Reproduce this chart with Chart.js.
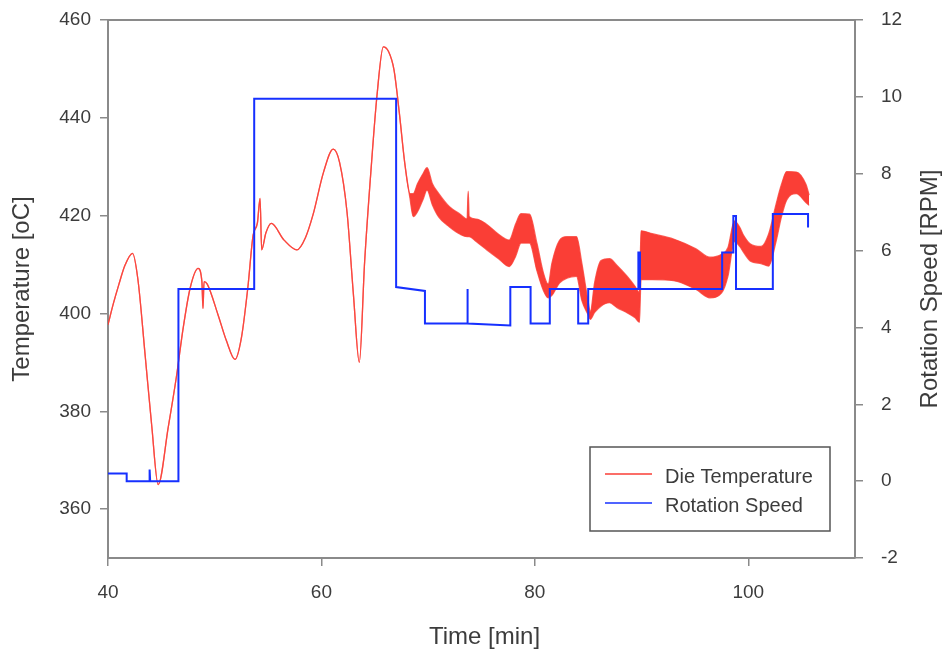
<!DOCTYPE html>
<html>
<head>
<meta charset="utf-8">
<title>Die Temperature / Rotation Speed</title>
<script src="https://cdn.jsdelivr.net/npm/chart.js@4.4.1/dist/chart.umd.min.js"></script>
<style>
  html, body { margin: 0; padding: 0; background: #fff; }
  #wrap { width: 946px; height: 653px; }
</style>
</head>
<body>
<div id="wrap"><canvas id="chart" width="946" height="653"></canvas></div>
<script>
// ================= DATA =================
// die temperature: time [min], upper and lower edge of the trace [oC]
// (both edges are equal where the trace is a thin line)
const tempTime = [
  40.0, 40.5, 41.0, 41.6, 42.3, 42.8, 43.5, 44.1, 44.7, 45.65,
  46.4, 47.05, 47.7, 48.45, 48.8, 48.9, 49.0, 49.3, 50.3, 51.1,
  51.9, 52.5, 53.1, 53.6, 54.0, 54.25, 54.4, 54.8, 55.3, 56.5,
  57.7, 58.5, 59.2, 60.2, 61.1, 61.7, 62.4, 63.0, 63.55, 64.05,
  64.7, 65.2, 65.8, 66.3, 66.8, 67.3, 67.8, 68.3, 68.6, 69.0,
  69.5, 69.9, 70.4, 71.0, 72.0, 73.0, 73.65, 73.75, 73.85, 74.5,
  75.5, 76.6, 77.6, 78.2, 78.7, 79.5, 80.2, 80.8, 81.25, 81.6,
  82.3, 83.0, 83.9, 84.4, 85.0, 85.2, 85.6, 86.2, 87.0, 87.7,
  88.6, 89.4, 89.8, 89.95, 91.0, 93.0, 95.1, 96.4, 97.5, 98.1,
  98.7, 99.2, 99.5, 100.2, 101.2, 101.9, 102.6, 103.1, 103.6, 104.5,
  105.4, 105.7
];
const tempHigh = [
  397.7, 402.0, 405.8, 409.9, 412.3, 407.0, 391.0, 377.0, 365.0, 376.8,
  386.9, 397.1, 405.2, 409.2, 406.5, 401.0, 406.5, 406.0, 399.8, 394.4,
  390.6, 395.0, 405.2, 416.0, 418.5, 423.5, 413.0, 416.5, 418.4, 415.0,
  413.0, 415.5, 420.1, 428.9, 433.6, 430.9, 420.7, 403.8, 390.0, 410.6,
  430.9, 444.4, 454.5, 453.5, 449.8, 441.0, 430.9, 424.5, 424.5, 426.5,
  428.5, 429.8, 426.5, 424.5, 421.8, 420.3, 419.3, 425.0, 419.8, 419.3,
  418.2, 416.2, 415.0, 418.3, 420.4, 420.3, 414.3, 408.3, 406.0, 410.3,
  414.9, 415.7, 415.7, 410.3, 402.3, 400.3, 406.3, 410.8, 411.2, 409.8,
  407.7, 405.5, 404.3, 416.9, 416.3, 415.2, 413.2, 411.5, 412.1, 413.5,
  418.9, 417.6, 416.2, 414.2, 413.7, 416.2, 422.3, 426.3, 429.0, 428.9,
  426.4, 424.2
];
const tempLow = [
  397.7, 402.0, 405.8, 409.9, 412.3, 407.0, 391.0, 377.0, 365.0, 376.8,
  386.9, 397.1, 405.2, 409.2, 406.5, 401.0, 406.5, 406.0, 399.8, 394.4,
  390.6, 395.0, 405.2, 416.0, 418.5, 423.5, 413.0, 416.5, 418.4, 415.0,
  413.0, 415.5, 420.1, 428.9, 433.6, 430.9, 420.7, 403.8, 390.0, 410.6,
  430.9, 444.4, 454.5, 453.5, 449.8, 441.0, 430.9, 423.5, 419.8, 420.8,
  423.2, 425.2, 422.2, 419.7, 417.7, 416.2, 415.7, 415.7, 415.7, 414.7,
  413.0, 411.2, 409.6, 411.7, 414.4, 414.4, 408.7, 404.7, 403.2, 403.7,
  406.2, 407.2, 407.6, 402.7, 399.7, 398.8, 400.2, 401.5, 402.2, 401.2,
  400.2, 399.1, 398.2, 406.9, 406.9, 406.7, 404.9, 403.2, 404.2, 407.7,
  414.7, 413.7, 412.7, 410.7, 410.2, 409.7, 414.7, 419.7, 423.2, 424.5,
  422.7, 422.1
];

// rotation speed: time [min] and speed [RPM], steps given as repeated times
const speedTime = [
  40.0, 41.75, 41.75, 43.9, 43.9, 43.95, 46.6, 46.6, 53.7, 53.7,
  67.0, 67.0, 69.7, 69.7, 73.65, 73.65, 73.72, 73.72, 77.7, 77.7,
  79.6, 79.6, 81.4, 81.4, 84.06, 84.06, 85.0, 85.0, 89.7, 89.7,
  89.85, 89.85, 97.55, 97.55, 98.6, 98.6, 98.85, 98.85, 102.3, 102.3,
  105.6, 105.6
];
const speedRpm = [
  0.2, 0.2, 0.0, 0.0, 0.3, 0.0, 0.0, 5.0, 5.0, 9.95,
  9.95, 5.05, 4.95, 4.1, 4.1, 5.0, 5.0, 4.1, 4.05, 5.05,
  5.05, 4.1, 4.1, 5.0, 5.0, 4.1, 4.1, 5.0, 5.0, 5.95,
  5.95, 5.0, 5.0, 5.95, 5.95, 6.9, 6.9, 5.0, 5.0, 6.95,
  6.95, 6.6
];

const timeTicks = [40, 60, 80, 100];
const tempTicks = [360, 380, 400, 420, 440, 460];
const speedTicks = [-2, 0, 2, 4, 6, 8, 10, 12];

const seriesNames = ["Die Temperature", "Rotation Speed"];
const axisTitles = { x: "Time [min]", left: "Temperature [oC]", right: "Rotation Speed [RPM]" };

// ================= STYLE =================
const RED = "rgb(250, 62, 54)";
const RED_LINE = "rgba(250, 62, 54, 0.8)";
const BLUE = "rgb(22, 48, 255)";
const AXIS = "#8a8a8a";
const TEXT = "#3c3c3c";
const FONT = "'Liberation Sans', Arial, sans-serif";

// ================= PLUGIN: titles, top frame, legend =================
const decorations = {
  id: "decorations",
  afterDraw(chart) {
    const ctx = chart.ctx;
    const a = chart.chartArea;

    // top frame line
    ctx.save();
    ctx.strokeStyle = AXIS;
    ctx.lineWidth = 2;
    ctx.beginPath();
    ctx.moveTo(a.left - 1, a.top);
    ctx.lineTo(a.right + 1, a.top);
    ctx.stroke();

    // axis titles
    ctx.fillStyle = TEXT;
    ctx.font = "24px " + FONT;
    ctx.textAlign = "center";
    ctx.textBaseline = "middle";
    ctx.fillText(axisTitles.x, (a.left + a.right) / 2 + 3, 637);

    const midY = (a.top + a.bottom) / 2;
    ctx.save();
    ctx.translate(22, midY);
    ctx.rotate(-Math.PI / 2);
    ctx.fillText(axisTitles.left, 0, 0);
    ctx.restore();

    ctx.save();
    ctx.translate(930, midY);
    ctx.rotate(-Math.PI / 2);
    ctx.fillText(axisTitles.right, 0, 0);
    ctx.restore();

    // legend box
    const x0 = a.right - 265, y0 = a.bottom - 111, w = 240, h = 84;
    ctx.strokeStyle = "#555";
    ctx.lineWidth = 1.5;
    ctx.strokeRect(x0, y0, w, h);

    const rows = [
      { name: seriesNames[0], color: RED, y: y0 + 27 },
      { name: seriesNames[1], color: BLUE, y: y0 + 56 }
    ];
    ctx.font = "20px " + FONT;
    ctx.textAlign = "left";
    rows.forEach(r => {
      ctx.strokeStyle = r.color;
      ctx.lineWidth = 1.5;
      ctx.beginPath();
      ctx.moveTo(x0 + 15, r.y);
      ctx.lineTo(x0 + 62, r.y);
      ctx.stroke();
      ctx.fillStyle = TEXT;
      ctx.fillText(r.name, x0 + 75, r.y + 3);
    });
    ctx.restore();
  }
};

// ================= CHART =================
const toPoints = (xs, ys) => xs.map((x, i) => ({ x: x, y: ys[i] }));

const axisGrid = { drawOnChartArea: false, drawTicks: true, tickLength: 8, color: AXIS, lineWidth: 1.5 };
const axisBorder = { display: true, color: AXIS, width: 2 };
const tickFont = { family: FONT, size: 19 };

// fixed axis boxes so the plot area sits where the reference has it
const fixSide = w => s => { s.width = w; s.paddingTop = 0; s.paddingBottom = 0; };

new Chart(document.getElementById("chart").getContext("2d"), {
  type: "line",
  data: {
    datasets: [
      {
        label: seriesNames[1],
        data: toPoints(speedTime, speedRpm),
        yAxisID: "yR",
        borderColor: BLUE,
        borderWidth: 2,
        pointRadius: 0,
        tension: 0,
        fill: false,
        order: 0
      },
      {
        label: seriesNames[0],
        data: toPoints(tempTime, tempHigh),
        yAxisID: "yT",
        borderColor: RED_LINE,
        borderWidth: 1.3,
        pointRadius: 0,
        cubicInterpolationMode: "monotone",
        fill: false,
        order: 1
      },
      {
        label: seriesNames[0] + " (low)",
        data: toPoints(tempTime, tempLow),
        yAxisID: "yT",
        borderColor: RED_LINE,
        backgroundColor: RED,
        borderWidth: 1.3,
        pointRadius: 0,
        cubicInterpolationMode: "monotone",
        fill: "-1",
        order: 2
      }
    ]
  },
  options: {
    responsive: false,
    animation: false,
    devicePixelRatio: 1,
    layout: { padding: { top: 20, left: 0, right: 0, bottom: 0 } },
    plugins: {
      legend: { display: false },
      tooltip: { enabled: false }
    },
    scales: {
      x: {
        type: "linear",
        position: "bottom",
        min: 40,
        max: 110,
        afterBuildTicks: s => { s.ticks = timeTicks.map(v => ({ value: v })); },
        afterFit: s => { s.height = 95; s.paddingLeft = 0; s.paddingRight = 0; },
        grid: axisGrid,
        border: axisBorder,
        ticks: { font: tickFont, color: TEXT, padding: 15, maxRotation: 0 }
      },
      yT: {
        type: "linear",
        position: "left",
        min: 350,
        max: 460,
        afterBuildTicks: s => { s.ticks = tempTicks.map(v => ({ value: v })); },
        afterFit: fixSide(108),
        grid: axisGrid,
        border: axisBorder,
        ticks: { font: tickFont, color: TEXT, padding: 9 }
      },
      yR: {
        type: "linear",
        position: "right",
        min: -2,
        max: 12,
        afterBuildTicks: s => { s.ticks = speedTicks.map(v => ({ value: v })); },
        afterFit: fixSide(91),
        grid: axisGrid,
        border: axisBorder,
        ticks: { font: tickFont, color: TEXT, padding: 18 }
      }
    }
  },
  plugins: [decorations]
});
</script>
</body>
</html>
